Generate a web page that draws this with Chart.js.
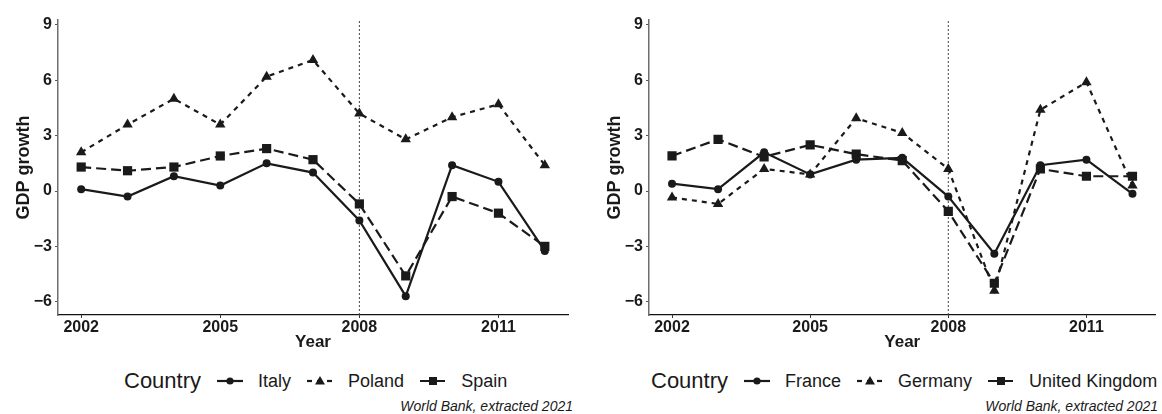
<!DOCTYPE html>
<html>
<head>
<meta charset="utf-8">
<script src="https://cdn.jsdelivr.net/npm/chart.js@4.4.0/dist/chart.umd.min.js"></script>
<style>
body { margin: 0; background: #fff; width: 1162px; height: 414px; overflow: hidden; position: relative; font-family: "Liberation Sans", Arial, sans-serif; color: #1a1a1a; }
.panel { position: absolute; top: 0; }
.legend { position: absolute; top: 369px; height: 24px; display: flex; align-items: center; font-size: 18px; white-space: nowrap; }
.legend .ttl { font-size: 22px; margin-right: 16px; }
.legend canvas { margin-right: 15px; }
.legend .item { margin-right: 16px; }
.caption { position: absolute; top: 398px; font-style: italic; font-size: 14px; white-space: nowrap; }
</style>
</head>
<body>
<div class="panel" style="left:0px"><canvas id="leftChart" width="575" height="355"></canvas></div>
<div class="panel" style="left:591px"><canvas id="rightChart" width="571" height="355"></canvas></div>
<div class="legend" id="leftLegend" style="left:124px"></div>
<div class="legend" id="rightLegend" style="left:651px"></div>
<div class="caption" style="right:589px">World Bank, extracted 2021</div>
<div class="caption" style="right:4px">World Bank, extracted 2021</div>
<script>
const years = [2002, 2003, 2004, 2005, 2006, 2007, 2008, 2009, 2010, 2011, 2012];
const italy = [0.1, -0.3, 0.8, 0.3, 1.5, 1.0, -1.6, -5.7, 1.4, 0.5, -3.25];
const poland = [2.1, 3.6, 5.0, 3.6, 6.2, 7.1, 4.2, 2.8, 4.0, 4.7, 1.4];
const spain = [1.3, 1.1, 1.3, 1.9, 2.3, 1.7, -0.7, -4.6, -0.3, -1.2, -3.0];
const france = [0.4, 0.1, 2.1, 0.9, 1.7, 1.8, -0.3, -3.4, 1.4, 1.7, -0.15];
const germany = [-0.35, -0.7, 1.2, 0.9, 3.95, 3.15, 1.2, -5.4, 4.4, 5.9, 0.3];
const uk = [1.9, 2.8, 1.85, 2.5, 2.0, 1.65, -1.1, -5.0, 1.2, 0.8, 0.8];
const leftCountries = ['Italy', 'Poland', 'Spain'];
const rightCountries = ['France', 'Germany', 'United Kingdom'];
const xTicks = [2002, 2005, 2008, 2011];
const yTicks = [-6, -3, 0, 3, 6, 9];
const crisisYear = 2008;

const yMin = -6.72, yMax = 9.27;
const ink = '#1a1a1a';

// solid+circle, short dash+triangle, long dash+square
const styles = [
    { dash: [], point: 'circle', radius: 4 },
    { dash: [5, 5], point: 'triangle', radius: 6 },
    { dash: [10, 5], point: 'rect', radius: 6.5 }
];

function makeChart(canvasId, names, series, padRight) {
    const ctx = document.getElementById(canvasId);
    const datasets = series.map(function (vals, i) {
        return {
            label: names[i],
            data: vals.map(function (v, j) { return { x: years[j], y: v }; }),
            borderColor: ink,
            backgroundColor: ink,
            borderWidth: 2.2,
            borderDash: styles[i].dash,
            pointStyle: styles[i].point,
            pointRadius: styles[i].radius,
            pointBorderWidth: 0,
            tension: 0,
            order: 1
        };
    });
    datasets.push({
        label: 'crisis',
        data: [{ x: crisisYear, y: yMin }, { x: crisisYear, y: yMax }],
        borderColor: '#444',
        borderWidth: 1,
        borderDash: [2, 2],
        pointRadius: 0,
        order: 2
    });

    return new Chart(ctx, {
        type: 'line',
        data: { datasets: datasets },
        options: {
            responsive: false,
            animation: false,
            layout: { padding: { top: 20, right: padRight, left: 0, bottom: 0 } },
            plugins: { legend: { display: false }, tooltip: { enabled: false } },
            scales: {
                x: {
                    type: 'linear',
                    min: 2001.5,
                    max: 2012.5,
                    afterBuildTicks: function (s) { s.ticks = xTicks.map(function (v) { return { value: v }; }); },
                    afterFit: function (s) { s.height = 40; },
                    ticks: {
                        color: ink,
                        font: { family: 'Liberation Sans', size: 16, weight: 'bold' },
                        padding: 0,
                        maxRotation: 0,
                        callback: function (v) { return String(v); }
                    },
                    grid: { drawOnChartArea: false, drawTicks: true, tickLength: 3, tickColor: '#333' },
                    border: { color: '#111', width: 1.2 },
                    title: {
                        display: true,
                        text: 'Year',
                        color: ink,
                        font: { family: 'Liberation Sans', size: 17, weight: 'bold' },
                        padding: { top: 0, bottom: 2 }
                    }
                },
                y: {
                    min: yMin,
                    max: yMax,
                    afterBuildTicks: function (s) { s.ticks = yTicks.map(function (v) { return { value: v }; }); },
                    afterFit: function (s) { s.width = 58; },
                    ticks: {
                        color: ink,
                        font: { family: 'Liberation Sans', size: 16, weight: 'bold' },
                        padding: 3,
                        callback: function (v) { return v < 0 ? '\u2212' + Math.abs(v) : String(v); }
                    },
                    grid: { drawOnChartArea: false, drawTicks: true, tickLength: 3, tickColor: '#555' },
                    border: { color: '#6e6e6e', width: 1.5 },
                    title: {
                        display: true,
                        text: 'GDP growth',
                        color: ink,
                        font: { family: 'Liberation Sans', size: 18, weight: 'bold' },
                        padding: { top: 13, bottom: 0 }
                    }
                }
            }
        }
    });
}

function drawKey(i) {
    const c = document.createElement('canvas');
    c.width = 26; c.height = 20;
    const g = c.getContext('2d');
    g.strokeStyle = ink; g.fillStyle = ink; g.lineWidth = 2.2;
    g.setLineDash(styles[i].dash);
    g.beginPath(); g.moveTo(0, 10); g.lineTo(26, 10); g.stroke();
    g.setLineDash([]);
    g.beginPath();
    if (i === 0) {
        g.arc(13, 10, 3.6, 0, Math.PI * 2);
    } else if (i === 1) {
        g.moveTo(13, 5); g.lineTo(18, 13.5); g.lineTo(8, 13.5); g.closePath();
    } else {
        g.rect(9, 6, 8, 8);
    }
    g.fill();
    return c;
}

function buildLegend(id, names) {
    const box = document.getElementById(id);
    const t = document.createElement('span');
    t.className = 'ttl'; t.textContent = 'Country';
    box.appendChild(t);
    names.forEach(function (n, i) {
        box.appendChild(drawKey(i));
        const s = document.createElement('span');
        s.className = 'item'; s.textContent = n;
        box.appendChild(s);
    });
}

makeChart('leftChart', leftCountries, [italy, poland, spain], 7);
makeChart('rightChart', rightCountries, [france, germany, uk], 2);
buildLegend('leftLegend', leftCountries);
buildLegend('rightLegend', rightCountries);
</script>
</body>
</html>
